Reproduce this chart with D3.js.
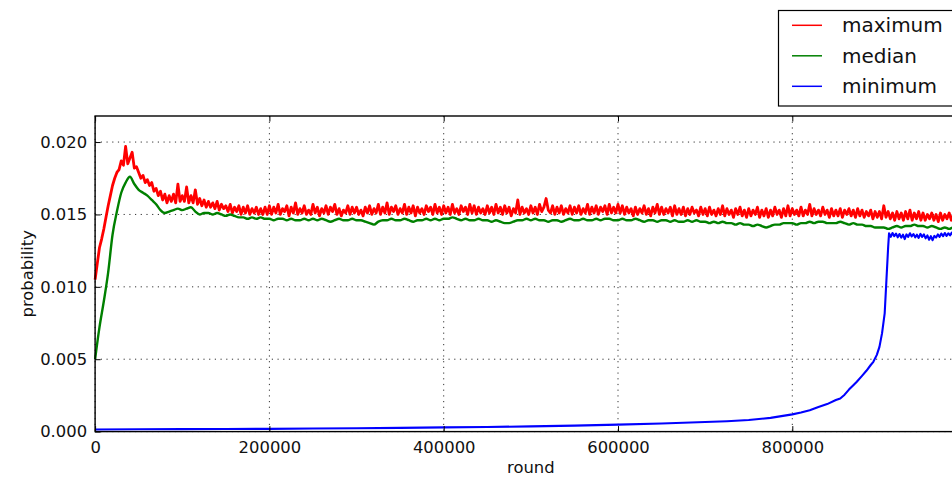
<!DOCTYPE html>
<html>
<head>
<meta charset="utf-8">
<script src="https://cdn.jsdelivr.net/npm/d3@7"></script>
<style>
    html, body { margin: 0; padding: 0; background: #fff; overflow: hidden; }
    svg { display: block; }
</style>
</head>
<body>
<div id="probabilityGraph"></div>
<script>
"use strict";

// ---- Data ----

// maximum: one sample every 2500 rounds, from round 0 to 1000000
const maximumStep = 2500;
const maximumValues = [
    0.0105, 0.0116, 0.0127, 0.0133, 0.0140, 0.0148, 0.0156, 0.0163, 0.0170, 0.0175, 0.0179, 0.0181, 0.0187, 0.0184, 0.0197, 0.0185, 0.0189, 0.0193, 0.0182, 0.0183,
    0.0179, 0.0175, 0.0177, 0.0172, 0.0174, 0.0170, 0.0172, 0.0166, 0.0168, 0.0163, 0.0166, 0.0160, 0.0164, 0.0158, 0.0163, 0.0159, 0.0164, 0.0158, 0.0171, 0.0159,
    0.0163, 0.0159, 0.0169, 0.0158, 0.0163, 0.0158, 0.0167, 0.0157, 0.0161, 0.0156, 0.0160, 0.0155, 0.0159, 0.0155, 0.0158, 0.0154, 0.0159, 0.0153, 0.0157, 0.0154,
    0.0156, 0.0152, 0.0157, 0.0151, 0.0155, 0.0152, 0.0156, 0.0150, 0.0155, 0.0151, 0.0156, 0.0150, 0.0154, 0.0151, 0.0155, 0.0150, 0.0154, 0.0150, 0.0155, 0.0150,
    0.0156, 0.0150, 0.0155, 0.0151, 0.0157, 0.0150, 0.0154, 0.0152, 0.0156, 0.0149, 0.0155, 0.0151, 0.0158, 0.0150, 0.0154, 0.0151, 0.0156, 0.0150, 0.0153, 0.0150,
    0.0157, 0.0151, 0.0155, 0.0149, 0.0154, 0.0151, 0.0156, 0.0150, 0.0155, 0.0152, 0.0157, 0.0150, 0.0154, 0.0149, 0.0153, 0.0151, 0.0156, 0.0150, 0.0155, 0.0151,
    0.0155, 0.0150, 0.0153, 0.0149, 0.0155, 0.0151, 0.0156, 0.0150, 0.0154, 0.0151, 0.0157, 0.0150, 0.0155, 0.0151, 0.0158, 0.0150, 0.0155, 0.0152, 0.0156, 0.0150,
    0.0154, 0.0151, 0.0157, 0.0150, 0.0155, 0.0151, 0.0156, 0.0149, 0.0155, 0.0151, 0.0154, 0.0150, 0.0156, 0.0152, 0.0155, 0.0150, 0.0157, 0.0151, 0.0155, 0.0150,
    0.0156, 0.0151, 0.0155, 0.0150, 0.0157, 0.0151, 0.0154, 0.0150, 0.0156, 0.0152, 0.0155, 0.0150, 0.0157, 0.0151, 0.0156, 0.0150, 0.0155, 0.0151, 0.0154, 0.0150,
    0.0156, 0.0151, 0.0155, 0.0150, 0.0157, 0.0151, 0.0155, 0.0150, 0.0156, 0.0151, 0.0155, 0.0149, 0.0154, 0.0151, 0.0160, 0.0150, 0.0155, 0.0151, 0.0154, 0.0150,
    0.0156, 0.0151, 0.0155, 0.0150, 0.0157, 0.0152, 0.0155, 0.0161, 0.0153, 0.0151, 0.0156, 0.0150, 0.0155, 0.0151, 0.0156, 0.0150, 0.0154, 0.0151, 0.0156, 0.0150,
    0.0155, 0.0151, 0.0156, 0.0150, 0.0154, 0.0151, 0.0157, 0.0150, 0.0155, 0.0151, 0.0156, 0.0150, 0.0155, 0.0152, 0.0156, 0.0150, 0.0157, 0.0151, 0.0155, 0.0151,
    0.0157, 0.0151, 0.0156, 0.0150, 0.0155, 0.0151, 0.0154, 0.0149, 0.0155, 0.0150, 0.0154, 0.0151, 0.0156, 0.0150, 0.0154, 0.0149, 0.0155, 0.0151, 0.0157, 0.0150,
    0.0155, 0.0150, 0.0154, 0.0151, 0.0155, 0.0149, 0.0156, 0.0150, 0.0154, 0.0150, 0.0155, 0.0149, 0.0154, 0.0150, 0.0155, 0.0151, 0.0153, 0.0149, 0.0155, 0.0150,
    0.0154, 0.0149, 0.0155, 0.0150, 0.0153, 0.0149, 0.0154, 0.0150, 0.0156, 0.0149, 0.0154, 0.0150, 0.0153, 0.0148, 0.0154, 0.0150, 0.0155, 0.0149, 0.0153, 0.0148,
    0.0154, 0.0149, 0.0153, 0.0150, 0.0155, 0.0148, 0.0153, 0.0149, 0.0154, 0.0148, 0.0153, 0.0149, 0.0155, 0.0150, 0.0153, 0.0148, 0.0154, 0.0149, 0.0156, 0.0149,
    0.0154, 0.0150, 0.0153, 0.0149, 0.0155, 0.0149, 0.0153, 0.0150, 0.0157, 0.0149, 0.0154, 0.0150, 0.0153, 0.0149, 0.0155, 0.0150, 0.0153, 0.0148, 0.0154, 0.0149,
    0.0153, 0.0149, 0.0154, 0.0148, 0.0153, 0.0150, 0.0154, 0.0149, 0.0153, 0.0148, 0.0154, 0.0149, 0.0153, 0.0148, 0.0152, 0.0149, 0.0153, 0.0147, 0.0152, 0.0148,
    0.0152, 0.0147, 0.0156, 0.0148, 0.0152, 0.0147, 0.0151, 0.0146, 0.0152, 0.0147, 0.0151, 0.0146, 0.0152, 0.0147, 0.0153, 0.0146, 0.0151, 0.0147, 0.0152, 0.0146,
    0.0151, 0.0146, 0.0150, 0.0147, 0.0151, 0.0146, 0.0150, 0.0145, 0.0151, 0.0146, 0.0150, 0.0147, 0.0151, 0.0146, 0.0150, 0.0145, 0.0151, 0.0146, 0.0150, 0.0146,
    0.0150
];

// median: one sample every 5000 rounds, from round 0 to 1000000
const medianStep = 5000;
const medianValues = [
    0.0050, 0.0072, 0.0090, 0.0110, 0.0136, 0.0152, 0.0165, 0.0172, 0.0176, 0.0171,
    0.0167, 0.0165, 0.0163, 0.0160, 0.0157, 0.0153, 0.0151, 0.0152, 0.0153, 0.0154,
    0.0153, 0.0154, 0.0155, 0.0152, 0.0150, 0.0151, 0.0151, 0.0150, 0.0151, 0.0150,
    0.0149, 0.0150, 0.0149, 0.0148, 0.0148, 0.0147, 0.0148, 0.0147, 0.0148, 0.0147,
    0.0147, 0.0146, 0.0147, 0.0147, 0.0146, 0.0147, 0.0146, 0.0146, 0.0147, 0.0146,
    0.0147, 0.0146, 0.0147, 0.0146, 0.0145, 0.0146, 0.0147, 0.0146, 0.0146, 0.0147,
    0.0146, 0.0146, 0.0145, 0.0144, 0.0143, 0.0145, 0.0146, 0.0146, 0.0147, 0.0146,
    0.0146, 0.0147, 0.0146, 0.0145, 0.0146, 0.0146, 0.0147, 0.0146, 0.0147, 0.0146,
    0.0147, 0.0147, 0.0148, 0.0147, 0.0146, 0.0147, 0.0146, 0.0146, 0.0147, 0.0146,
    0.0146, 0.0145, 0.0146, 0.0145, 0.0144, 0.0144, 0.0145, 0.0146, 0.0146, 0.0147,
    0.0146, 0.0147, 0.0146, 0.0146, 0.0145, 0.0146, 0.0146, 0.0145, 0.0146, 0.0147,
    0.0146, 0.0146, 0.0147, 0.0146, 0.0146, 0.0147, 0.0146, 0.0147, 0.0147, 0.0146,
    0.0146, 0.0147, 0.0146, 0.0146, 0.0147, 0.0146, 0.0145, 0.0146, 0.0146, 0.0145,
    0.0146, 0.0146, 0.0145, 0.0146, 0.0145, 0.0145, 0.0146, 0.0145, 0.0146, 0.0145,
    0.0145, 0.0144, 0.0145, 0.0144, 0.0145, 0.0144, 0.0144, 0.0143, 0.0144, 0.0143,
    0.0143, 0.0142, 0.0143, 0.0142, 0.0141, 0.0142, 0.0143, 0.0143, 0.0144, 0.0144,
    0.0144, 0.0143, 0.0144, 0.0144, 0.0145, 0.0144, 0.0145, 0.0145, 0.0144, 0.0144,
    0.0144, 0.0145, 0.0144, 0.0143, 0.0144, 0.0143, 0.0143, 0.0142, 0.0142, 0.0141,
    0.0141, 0.0141, 0.0140, 0.0141, 0.0142, 0.0141, 0.0142, 0.0142, 0.0143, 0.0142,
    0.0142, 0.0141, 0.0142, 0.0141, 0.0140, 0.0141, 0.0140, 0.0141, 0.0140, 0.0140,
    0.0140
];

// minimum: sampled more densely around the jump
const minimumRounds = [
    0, 50000, 100000, 150000, 200000, 250000, 300000, 350000, 400000, 450000,
    500000, 550000, 600000, 650000, 700000, 725000, 750000, 775000, 800000, 810000,
    820000, 830000, 840000, 850000, 855000, 860000, 865000, 870000, 874000, 880000,
    885000, 890000, 893000, 897000, 900000, 903000, 906000, 908000, 910000, 911000,
    913000, 915000, 917000, 919000, 921000, 923000, 925000, 927000, 929000, 931000,
    933000, 935000, 937000, 939000, 941000, 943000, 945000, 947000, 949000, 951000,
    953000, 955000, 957000, 959000, 961000, 963000, 965000, 967000, 969000, 971000,
    973000, 975000, 977000, 979000, 981000, 983000, 985000, 987000, 989000, 991000,
    993000, 995000, 997000, 1000000
];
const minimumValues = [
    0.00015, 0.00016, 0.00017, 0.00018, 0.00019, 0.00021, 0.00023, 0.00026, 0.00029, 0.00032,
    0.00036, 0.00041, 0.00048, 0.00056, 0.00066, 0.00072, 0.00080, 0.00095, 0.00119, 0.00132,
    0.00148, 0.00170, 0.00190, 0.00218, 0.00229, 0.00255, 0.00290, 0.00320, 0.00344, 0.00385,
    0.00420, 0.00460, 0.00482, 0.00530, 0.00585, 0.00680, 0.00816, 0.01046, 0.01276, 0.01370,
    0.01345, 0.01372, 0.01350, 0.01368, 0.01342, 0.01365, 0.01340, 0.01360, 0.01330, 0.01362,
    0.01345, 0.01370, 0.01348, 0.01365, 0.01342, 0.01360, 0.01338, 0.01366, 0.01345, 0.01362,
    0.01335, 0.01355, 0.01325, 0.01350, 0.01322, 0.01352, 0.01340, 0.01362, 0.01345, 0.01368,
    0.01350, 0.01372, 0.01352, 0.01370, 0.01355, 0.01375, 0.01352, 0.01370, 0.01350, 0.01368,
    0.01352, 0.01370, 0.01350, 0.01365
];

const seriesNames = ["maximum", "median", "minimum"];
const xTicks = [0, 200000, 400000, 600000, 800000];
const yTicks = [0.000, 0.005, 0.010, 0.015, 0.020];

// ---- Drawing ----

const svg = d3.select("#probabilityGraph").append("svg");

var ProbabilityChart = CreateChart();
ProbabilityChart.Draw(svg);

function CreateChart() {
    var svg, graphInfo, xScale, yScale;

    function Draw(graph) {
        svg = graph;

        // Plot box; the figure is wider than the window, so the right edge is cut off
        graphInfo = {
            width: 952,
            height: 481,
            left: 95.1,
            right: 966.6,
            top: 116,
            bottom: 431.6,
            xMax: 1000000,
            yMax: 0.0218,
            tickLength: 5.5,
            font: "DejaVu Sans, Bitstream Vera Sans, sans-serif",
            fontSize: 16.4,
            colors: ["#ff0000", "#008000", "#0000ff"]
        };

        svg.attr("width", graphInfo.width).attr("height", graphInfo.height);

        xScale = d3.scaleLinear()
            .domain([0, graphInfo.xMax])
            .range([graphInfo.left, graphInfo.right]);

        yScale = d3.scaleLinear()
            .domain([0, graphInfo.yMax])
            .range([graphInfo.bottom, graphInfo.top]);

        AddGrid();
        AddLines();
        AddAxes();
        AddLegend();
    }

    function AddGrid() {
        const grid = svg.append("g")
            .attr("stroke", "#333")
            .attr("stroke-width", 1)
            .attr("stroke-dasharray", "1.2,4.5");

        grid.selectAll(".vgrid")
            .data(xTicks)
            .join("line")
            .attr("x1", d => xScale(d)).attr("x2", d => xScale(d))
            .attr("y1", graphInfo.top).attr("y2", graphInfo.bottom);

        grid.selectAll(".hgrid")
            .data(yTicks)
            .join("line")
            .attr("x1", graphInfo.left).attr("x2", graphInfo.right)
            .attr("y1", d => yScale(d)).attr("y2", d => yScale(d));
    }

    function AddLines() {
        const maximumData = maximumValues.map((v, i) => ({ round: i * maximumStep, value: v }));
        const medianData = medianValues.map((v, i) => ({ round: i * medianStep, value: v }));
        const minimumData = minimumValues.map((v, i) => ({ round: minimumRounds[i], value: v }));

        const rawLine = d3.line()
            .x(d => xScale(d.round))
            .y(d => yScale(d.value));

        const smoothLine = d3.line()
            .curve(d3.curveMonotoneX)
            .x(d => xScale(d.round))
            .y(d => yScale(d.value));

        // The maximum is very noisy, so a wide stroke fills it into a band
        const series = [
            { data: maximumData, line: rawLine, width: 2.8 },
            { data: medianData, line: smoothLine, width: 2.4 },
            { data: minimumData, line: rawLine, width: 2.1 }
        ];

        series.forEach((s, i) => {
            svg.append("path")
                .datum(s.data)
                .attr("fill", "none")
                .attr("stroke", graphInfo.colors[i])
                .attr("stroke-width", s.width)
                .attr("stroke-linejoin", "round")
                .attr("d", s.line);
        });
    }

    function AddAxes() {
        const t = graphInfo.tickLength;

        // Bottom axis with labels, ticks pointing inwards
        svg.append("g")
            .attr("transform", `translate(0,${graphInfo.bottom})`)
            .call(d3.axisBottom(xScale).tickValues(xTicks).tickFormat(d3.format("d")).tickSize(-t).tickPadding(10))
            .call(g => g.select(".domain").remove())
            .attr("font-family", graphInfo.font)
            .attr("font-size", graphInfo.fontSize)
            .call(g => g.selectAll("text").attr("fill", "#111"))
            .call(g => g.selectAll("line").attr("stroke", "#000").attr("stroke-width", 1));

        // Top axis, ticks only
        svg.append("g")
            .attr("transform", `translate(0,${graphInfo.top})`)
            .call(d3.axisTop(xScale).tickValues(xTicks).tickFormat("").tickSize(-t))
            .call(g => g.select(".domain").remove());

        // Left axis with labels
        svg.append("g")
            .attr("transform", `translate(${graphInfo.left},0)`)
            .call(d3.axisLeft(yScale).tickValues(yTicks).tickFormat(d3.format(".3f")).tickSize(-t).tickPadding(8))
            .call(g => g.select(".domain").remove())
            .attr("font-family", graphInfo.font)
            .attr("font-size", graphInfo.fontSize)
            .call(g => g.selectAll("text").attr("fill", "#111"))
            .call(g => g.selectAll("line").attr("stroke", "#000").attr("stroke-width", 1));

        // Right axis, ticks only
        svg.append("g")
            .attr("transform", `translate(${graphInfo.right},0)`)
            .call(d3.axisRight(yScale).tickValues(yTicks).tickFormat("").tickSize(-t))
            .call(g => g.select(".domain").remove());

        // Frame around the plot
        svg.append("rect")
            .attr("x", graphInfo.left)
            .attr("y", graphInfo.top)
            .attr("width", graphInfo.right - graphInfo.left)
            .attr("height", graphInfo.bottom - graphInfo.top)
            .attr("fill", "none")
            .attr("stroke", "#000")
            .attr("stroke-width", 1.4);

        // Axis titles
        svg.append("text")
            .attr("x", (graphInfo.left + graphInfo.right) / 2)
            .attr("y", 473)
            .attr("text-anchor", "middle")
            .attr("font-family", graphInfo.font)
            .attr("font-size", graphInfo.fontSize)
            .attr("fill", "#111")
            .text("round");

        svg.append("text")
            .attr("transform", `translate(33,${(graphInfo.top + graphInfo.bottom) / 2}) rotate(-90)`)
            .attr("text-anchor", "middle")
            .attr("font-family", graphInfo.font)
            .attr("font-size", graphInfo.fontSize)
            .attr("fill", "#111")
            .text("probability");
    }

    function AddLegend() {
        const legend = svg.append("g");

        legend.append("rect")
            .attr("x", 778.5)
            .attr("y", 10.5)
            .attr("width", 200)
            .attr("height", 95.5)
            .attr("fill", "#fff")
            .attr("stroke", "#000")
            .attr("stroke-width", 1.2);

        const rowY = d3.scalePoint().domain(seriesNames).range([25.3, 86.3]);

        const item = legend.selectAll(".item")
            .data(seriesNames)
            .join("g")
            .attr("transform", d => `translate(0,${rowY(d)})`);

        item.append("line")
            .attr("x1", 792).attr("x2", 822)
            .attr("stroke", (d, i) => graphInfo.colors[i])
            .attr("stroke-width", 1.5);

        item.append("text")
            .attr("x", 842)
            .attr("dy", "0.35em")
            .attr("font-family", graphInfo.font)
            .attr("font-size", 20)
            .attr("fill", "#111")
            .text(d => d);
    }

    return {
        Draw: Draw
    };
}
</script>
</body>
</html>
